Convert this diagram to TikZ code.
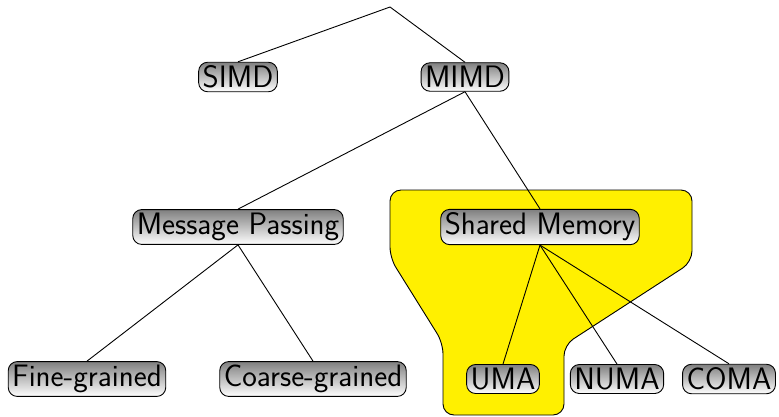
\documentclass[tikz,border=0pt]{standalone}
\usepackage{tikz}

\definecolor{hiyellow}{RGB}{255,240,0}
\tikzset{
	class/.style={draw, rounded corners=9pt, top color=black!50, bottom color=white,
		font=\sffamily\fontsize{31}{34}\selectfont, inner xsep=4pt, inner ysep=3.5pt},
}

\begin{document}
\begin{tikzpicture}[x=1pt, y=-1pt, line width=0.9pt]
		\useasboundingbox (0,0) rectangle (779,416);
		
		%highlighted shared memory branch
		\draw [fill=hiyellow, rounded corners=11pt] (390,190) -- (692,190) -- (692,262) -- (564,345)
			-- (564,415) -- (443,415) -- (443,343) -- (390,258) -- cycle;
		
		%root of the classification
		\coordinate (root) at (390,7);
		
		%first level
		\node [class] (simd) at (238,77) {SIMD};
		\node [class] (mimd) at (465,77) {MIMD};
		
		%second level
		\node [class] (mp) at (238,227) {Message Passing};
		\node [class] (sm) at (540,227) {Shared Memory};
		
		%leaves
		\node [class] (fine) at (87,379) {Fine-grained};
		\node [class] (coarse) at (313,379) {Coarse-grained};
		\node [class] (uma) at (503,379) {UMA};
		\node [class] (numa) at (617,379) {NUMA};
		\node [class] (coma) at (729,379) {COMA};
		
		%edges
		\draw (root) -- (simd.north);
		\draw (root) -- (mimd.north);
		\draw (mimd.south) -- (mp.north);
		\draw (mimd.south) -- (sm.north);
		\draw (mp.south) -- (fine.north);
		\draw (mp.south) -- (coarse.north);
		\draw (sm.south) -- (uma.north);
		\draw (sm.south) -- (numa.north);
		\draw (sm.south) -- (coma.north);
\end{tikzpicture}
\end{document}
